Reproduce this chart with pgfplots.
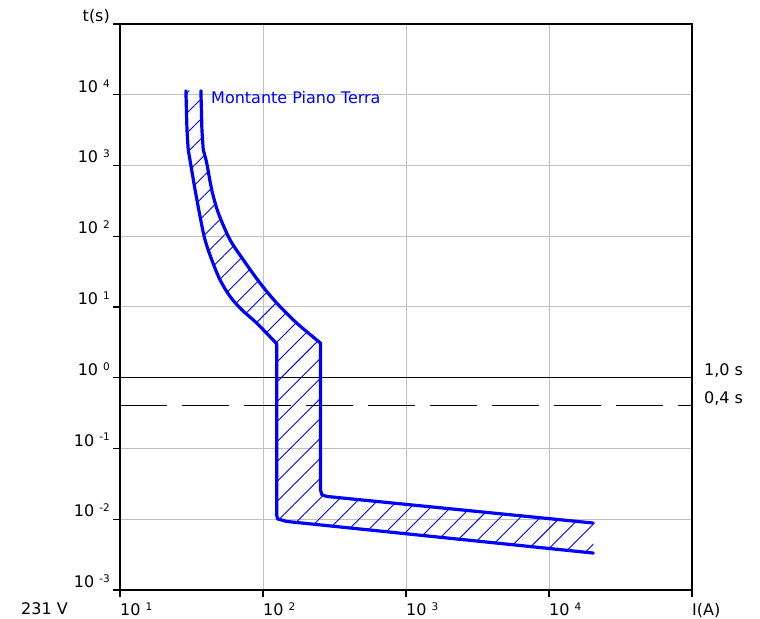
\documentclass[border=0pt]{standalone}
\usepackage{pgfplots}
\pgfplotsset{compat=1.18}
\usepackage{fontspec}
\setmainfont{DejaVu Sans}
\usetikzlibrary{patterns.meta}
\definecolor{gridgray}{RGB}{192,192,192}
\definecolor{cblue}{RGB}{0,0,255}
\newcommand{\tl}[1]{10\hspace{5bp}\raisebox{5.1bp}{\fontsize{10.5bp}{11bp}\selectfont #1}}
\begin{document}
\fontsize{16bp}{19bp}\selectfont
\begin{tikzpicture}
\useasboundingbox (-120bp,-29bp) rectangle (640bp,590bp);
\begin{axis}[
 at={(0,0)}, anchor=south west,
 scale only axis, width=572bp, height=566bp,
 xmode=log, ymode=log,
 xmin=10, xmax=1e5, ymin=1e-3, ymax=1e5,
 axis line style={black, line width=1.4bp},
 xtick={10,100,1000,10000,100000},
 xticklabels={\tl{1},\tl{2},\tl{3},\tl{4},I(A)},
 ytick={1e-3,1e-2,1e-1,1,10,100,1000,1e4,1e5},
 yticklabels={\tl{-3},\tl{-2},\tl{-1},\tl{0},\tl{1},\tl{2},\tl{3},\tl{4},t(s)},
 xminorticks=false, yminorticks=false,
 tick align=outside, tick pos=left, major tick length=7bp,
 major tick style={black, line width=1.4bp},
 grid=major, major grid style={gridgray, line width=1bp},
 clip=false,
 xticklabel style={anchor=base west, inner sep=0pt, yshift=-19bp},
 yticklabel style={anchor=base east, inner sep=0pt, yshift=2.5bp, xshift=-3bp},
 curve/.style={cblue, line width=3.2bp, mark=none, line join=round, line cap=round},
]
\addplot[black, line width=1.4bp, mark=none] coordinates {(10,1) (1e5,1)};
\addplot[black, line width=1bp, mark=none, dash pattern=on 47bp off 15bp] coordinates {(10,0.4) (1e5,0.4)};
\addplot[draw=none, mark=none, pattern={Lines[angle=45,distance=14.1bp,line width=0.9bp]}, pattern color=cblue] coordinates {
(28.9,11390) (29.4,3199) (30.0,1670) (31.7,871) (33.5,454) (36.3,190.5) (39.3,89.2) (43.8,46.5) (50.0,24.3) (58.8,14.1) (71.0,9.15) (90.3,5.93) (124.7,3.02) (124.7,0.0115) (126.5,0.0101) (146.5,0.00931) (20400,0.00333)
(20400,0.00884) (279,0.0210) (258,0.0222) (252.4,0.026) (252.4,3.09) (172.1,5.93) (124.7,11.37) (95.3,21.8) (72.8,46.5) (58.8,89.2) (48.7,212.8) (43.8,454) (40.4,1083) (38.2,1670) (37.4,3199) (36.8,11390)
};
% left (lower) boundary
\addplot[curve] coordinates {(28.9,11390) (29.4,3199) (30.0,1670)};
\addplot[curve, smooth, tension=0.5] coordinates {(30.0,1670) (31.7,871) (33.5,454) (36.3,190.5) (39.3,89.2) (43.8,46.5) (50.0,24.3) (58.8,14.1) (71.0,9.15) (90.3,5.93) (124.7,3.02)};
\addplot[curve] coordinates {(124.7,3.02) (124.7,0.0115) (126.5,0.0101) (146.5,0.00931) (20400,0.00333)};
% right (upper) boundary
\addplot[curve] coordinates {(36.8,11390) (37.4,3199) (38.2,1670)};
\addplot[curve, smooth, tension=0.5] coordinates {(38.2,1670) (40.4,1083) (43.8,454) (48.7,212.8) (58.8,89.2) (72.8,46.5) (95.3,21.8) (124.7,11.37) (172.1,5.93) (252.4,3.09)};
\addplot[curve] coordinates {(252.4,3.09) (252.4,0.026) (258,0.0222) (279,0.0210) (20400,0.00884)};
\node[anchor=base west, inner sep=0pt, text=cblue] at (axis cs:43.3,7460) {Montante Piano Terra};
\node[anchor=base west, inner sep=0pt] at (axis cs:1e5,1) [xshift=12bp, yshift=2bp] {1,0 s};
\node[anchor=base west, inner sep=0pt] at (axis cs:1e5,0.4) [xshift=12bp, yshift=2bp] {0,4 s};
\node[anchor=base west, inner sep=0pt] at (rel axis cs:0,0) [xshift=-99bp, yshift=-24bp] {231 V};
\end{axis}
\end{tikzpicture}
\end{document}
